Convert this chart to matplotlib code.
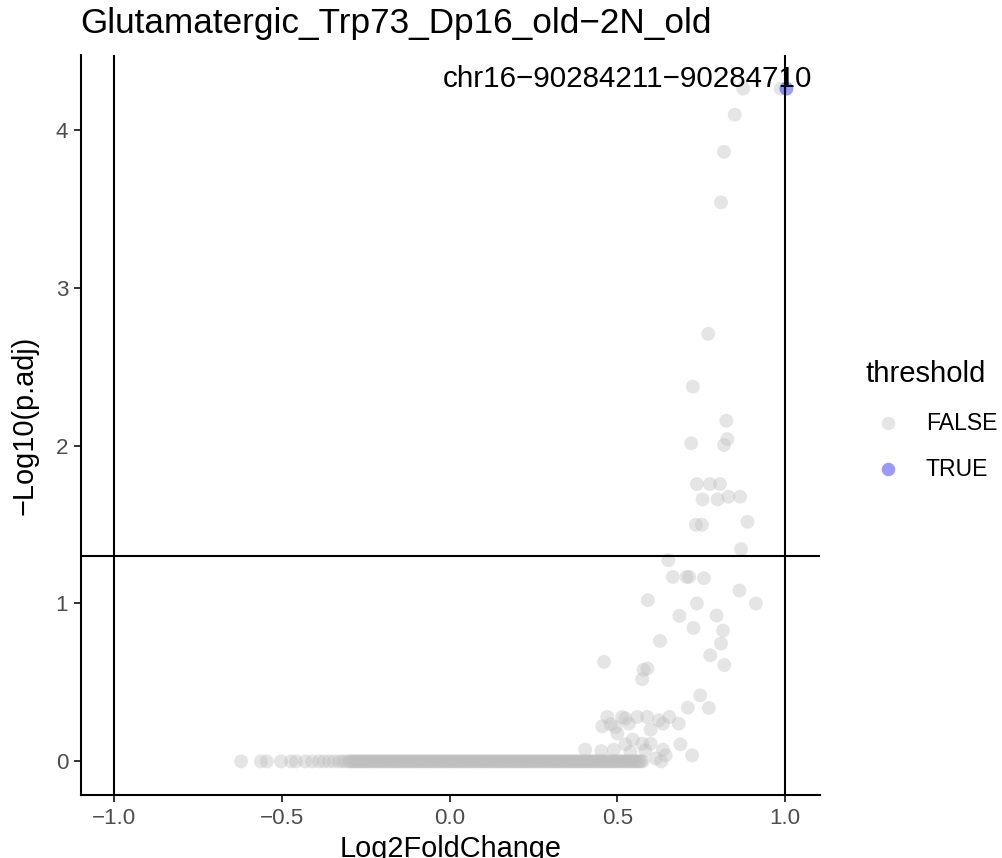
import matplotlib
matplotlib.use("Agg")
import matplotlib.pyplot as plt
from matplotlib.lines import Line2D

plt.rcParams['font.family'] = ['Liberation Sans', 'DejaVu Sans']

title = "Glutamatergic_Trp73_Dp16_old\u22122N_old"
xlabel = "Log2FoldChange"
ylabel = "\u2212Log10(p.adj)"
label_text = "chr16\u221290284211\u221290284710"
legend_title = "threshold"
legend_labels = ["FALSE", "TRUE"]
x_ticks = [-1.0, -0.5, 0.0, 0.5, 1.0]
y_ticks = [0, 1, 2, 3, 4]
fc_cut = [-1.0, 1.0]
p_cut = 1.30103

# sparse FALSE points (log2FC, -log10 padj)
upper_x = [0.875, 0.987, 0.850, 0.818, 0.809, 0.771, 0.725, 0.825, 0.720, 0.828,
           0.818, 0.737, 0.776, 0.806, 0.754, 0.799, 0.831, 0.866, 0.734, 0.752,
           0.888, 0.869, 0.652, 0.665, 0.706, 0.714, 0.758, 0.864, 0.591, 0.913,
           0.737, 0.685, 0.796, 0.727, 0.815, 0.627, 0.809, 0.777, 0.460, 0.819,
           0.590, 0.578, 0.574, 0.747, 0.710, 0.773]
upper_y = [4.26, 4.26, 4.095, 3.86, 3.54, 2.707, 2.373, 2.157, 2.014, 2.041,
           2.003, 1.756, 1.756, 1.756, 1.659, 1.659, 1.676, 1.676, 1.498, 1.498,
           1.517, 1.344, 1.274, 1.168, 1.168, 1.168, 1.160, 1.082, 1.021, 1.000,
           1.000, 0.921, 0.923, 0.845, 0.828, 0.763, 0.746, 0.672, 0.630, 0.610,
           0.588, 0.580, 0.520, 0.418, 0.340, 0.338]

low_x = [0.470, 0.455, 0.480, 0.494, 0.514, 0.524, 0.534, 0.500, 0.559, 0.589,
         0.599, 0.624, 0.636, 0.655, 0.683, 0.546, 0.524, 0.574, 0.599, 0.688,
         0.404, 0.452, 0.489, 0.539, 0.583, 0.636, 0.644, 0.723, 0.631, 0.614]
low_y = [0.281, 0.222, 0.235, 0.217, 0.281, 0.271, 0.239, 0.176, 0.281, 0.281,
         0.201, 0.260, 0.239, 0.281, 0.239, 0.138, 0.108, 0.112, 0.112, 0.108,
         0.074, 0.065, 0.074, 0.059, 0.070, 0.074, 0.038, 0.038, 0.000, 0.019]

# the many genes with padj ~ 1 (y = 0)
zero_x = [-0.622, -0.563, -0.545, -0.503, -0.473, -0.458, -0.431, -0.410, -0.390, -0.375,
          -0.360, -0.345, -0.330, -0.320, -0.310,
          -0.300, -0.295, -0.290, -0.285, -0.280, -0.275, -0.270, -0.265, -0.260, -0.255,
          -0.250, -0.245, -0.240, -0.235, -0.230, -0.225, -0.220, -0.215, -0.210, -0.205,
          -0.200, -0.195, -0.190, -0.185, -0.180, -0.175, -0.170, -0.165, -0.160, -0.155,
          -0.150, -0.145, -0.140, -0.135, -0.130, -0.125, -0.120, -0.115, -0.110, -0.105,
          -0.100, -0.095, -0.090, -0.085, -0.080, -0.075, -0.070, -0.065, -0.060, -0.055,
          -0.050, -0.045, -0.040, -0.035, -0.030, -0.025, -0.020, -0.015, -0.010, -0.005,
          0.000, 0.005, 0.010, 0.015, 0.020, 0.025, 0.030, 0.035, 0.040, 0.045,
          0.050, 0.055, 0.060, 0.065, 0.070, 0.075, 0.080, 0.085, 0.090, 0.095,
          0.100, 0.105, 0.110, 0.115, 0.120, 0.125, 0.130, 0.135, 0.140, 0.145,
          0.150, 0.155, 0.160, 0.165, 0.170, 0.175, 0.180, 0.185, 0.190, 0.195,
          0.200, 0.205, 0.210, 0.215, 0.220, 0.225, 0.230, 0.235, 0.240, 0.245,
          0.250, 0.255, 0.260, 0.265, 0.270, 0.275, 0.280, 0.285, 0.290, 0.295,
          0.300, 0.305, 0.310, 0.315, 0.320, 0.325, 0.330, 0.335, 0.340, 0.345,
          0.350, 0.355, 0.360, 0.365, 0.370, 0.375, 0.380, 0.385, 0.390, 0.395,
          0.400, 0.405, 0.410, 0.415, 0.420, 0.425, 0.430, 0.435, 0.440, 0.445,
          0.450, 0.455, 0.460, 0.465, 0.470, 0.475, 0.480, 0.485, 0.490, 0.495,
          0.500, 0.505, 0.510, 0.515, 0.520, 0.525, 0.530, 0.535, 0.540, 0.545,
          0.550, 0.555, 0.560, 0.565, 0.570, 0.575]
zero_y = [0.0] * len(zero_x)

# significant point
true_x = [1.004]
true_y = [4.26]

grey = "#BEBEBE"
blue = "#0000FF"
alpha = 0.4
msize = 100

fig = plt.figure(figsize=(10.03, 8.58), dpi=100)
W, H = 1003, 858
ax = fig.add_axes([80.7 / W, (H - 795) / H, (820 - 80.7) / W, (795 - 55) / H])

false_x = zero_x + low_x + upper_x
false_y = zero_y + low_y + upper_y
ax.scatter(false_x, false_y, s=msize, c=grey, alpha=alpha, edgecolors='none', zorder=2)
ax.scatter(true_x, true_y, s=msize, c=blue, alpha=alpha, edgecolors='none', zorder=2)

for v in fc_cut:
    ax.axvline(v, color='black', lw=1.5, zorder=3)
ax.axhline(p_cut, color='black', lw=1.5, zorder=3)

# axis limits with ggplot-style 5% expansion
xmin = min(min(false_x), fc_cut[0])
xmax = max(max(true_x), fc_cut[1])
ymin, ymax = 0.0, max(true_y + false_y)
xr, yr = xmax - xmin, ymax - ymin
ax.set_xlim(xmin - 0.05 * xr, xmax + 0.05 * xr)
ax.set_ylim(ymin - 0.05 * yr, ymax + 0.05 * yr)

ax.set_xticks(x_ticks)
ax.set_xticklabels([f"{t:.1f}".replace("-", "\u2212") for t in x_ticks])
ax.set_yticks(y_ticks)
ax.set_yticklabels([str(t) for t in y_ticks])
ax.tick_params(axis='both', labelsize=16.1, labelcolor='#4D4D4D', color='#333333',
               length=5, width=1.4, pad=4)

for s in ['top', 'right']:
    ax.spines[s].set_visible(False)
for s in ['left', 'bottom']:
    ax.spines[s].set_linewidth(1.5)
    ax.spines[s].set_color('black')

ax.text(0.530, 4.272, label_text, ha='center', va='baseline', fontsize=21.3, color='black', zorder=4)

fig.text(80.7 / W, (H - 33) / H, title, ha='left', va='baseline', fontsize=25.3, color='black')
fig.text((80.7 + 820) / 2 / W, (H - 857) / H, xlabel, ha='center', va='baseline', fontsize=20.8)
fig.text(25 / W, (H - 425) / H, ylabel, ha='center', va='center', rotation=90, fontsize=20.8)

# legend
fig.text(865 / W, (H - 381.7) / H, legend_title, ha='left', va='baseline', fontsize=21.1)
leg_cols = [grey, blue]
leg_y = [423.3, 469.3]
for lab, col, yy in zip(legend_labels, leg_cols, leg_y):
    fig.add_artist(Line2D([887.7 / W], [(H - yy) / H], transform=fig.transFigure, marker='o',
                          markersize=9.7, markerfacecolor=col, markeredgecolor='none',
                          alpha=alpha, linestyle='none'))
    fig.text(926 / W, (H - yy) / H, lab, ha='left', va='center', fontsize=16.6)

fig.savefig("out.png", dpi=100)
